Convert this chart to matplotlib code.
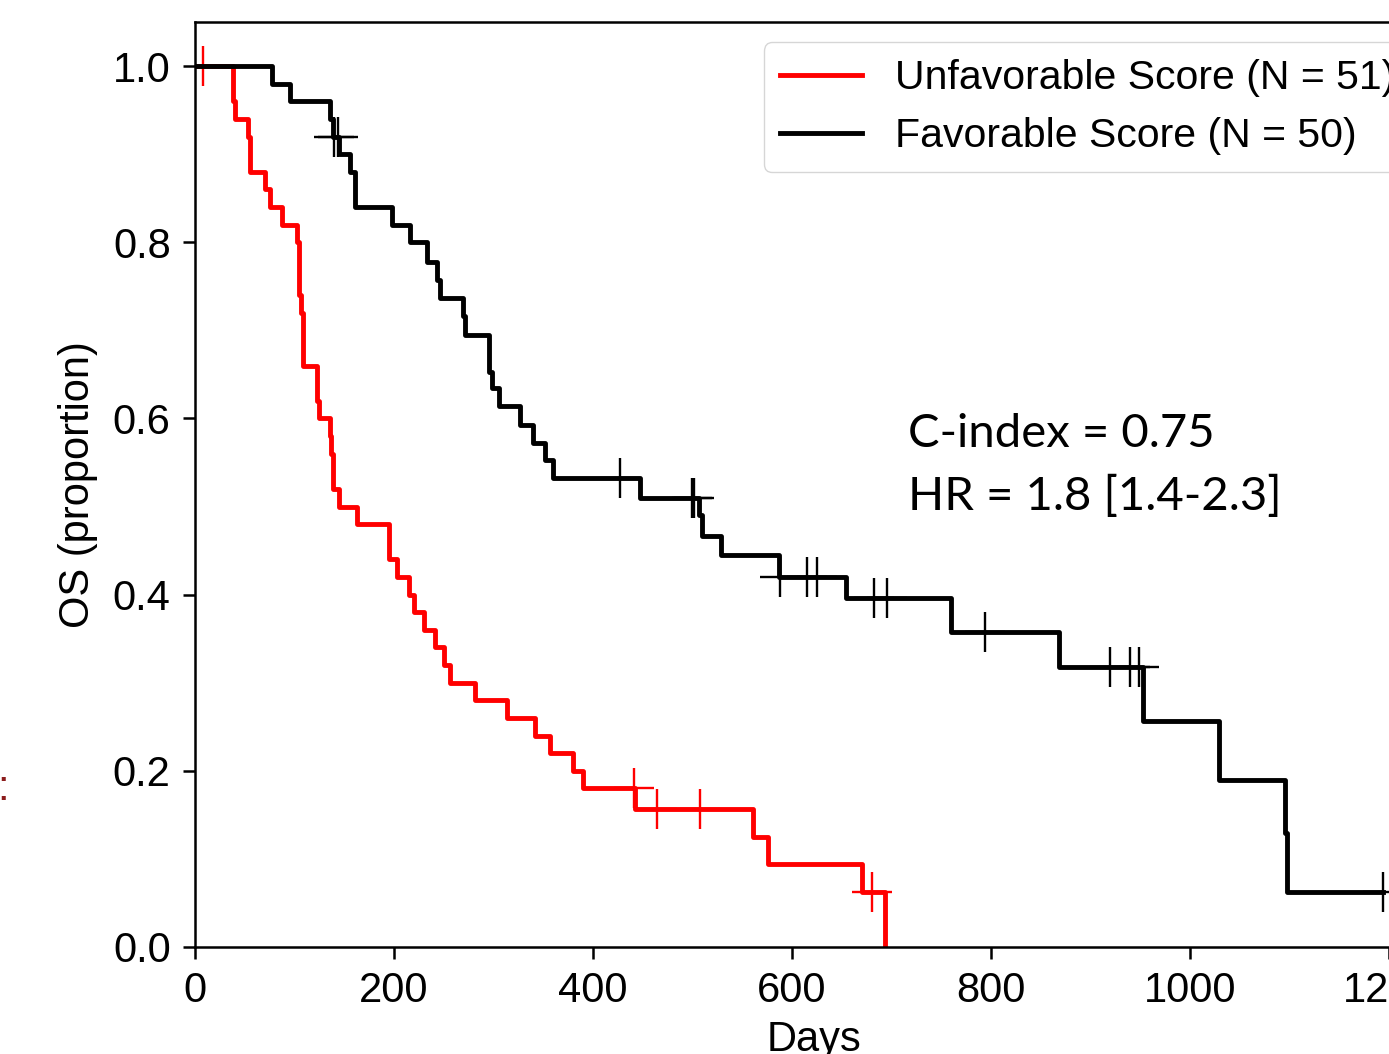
import numpy as np
import matplotlib
matplotlib.use("Agg")
from matplotlib import pyplot as plt

# Kaplan-Meier steps (days, survival after the drop)
unfav_times = [0, 38, 40, 53, 55, 70, 75, 87, 102, 105, 107, 109, 123, 125, 136, 137, 139, 145,
               163, 195, 203, 215, 220, 230, 241, 250, 256, 281, 314, 342, 357, 380, 390, 442,
               561, 576, 670, 693]
unfav_surv = [1.0, 0.96, 0.94, 0.92, 0.88, 0.86, 0.84, 0.82, 0.80, 0.74, 0.72, 0.66, 0.62, 0.60,
              0.58, 0.56, 0.52, 0.50, 0.48, 0.44, 0.42, 0.40, 0.38, 0.36, 0.34, 0.32, 0.30, 0.28,
              0.26, 0.24, 0.22, 0.20, 0.18, 0.157, 0.125, 0.094, 0.063, 0.0]
unfav_censor = [8, 441, 464, 507, 680]

fav_times = [0, 77, 95, 136, 139, 145, 156, 161, 198, 216, 233, 243, 246, 269, 271, 295, 298,
             305, 327, 340, 352, 360, 447, 506, 509, 529, 587, 654, 760, 868, 953, 1029, 1095,
             1097]
fav_surv = [1.0, 0.98, 0.96, 0.94, 0.92, 0.90, 0.88, 0.84, 0.82, 0.80, 0.778, 0.757, 0.737,
            0.716, 0.695, 0.653, 0.634, 0.614, 0.593, 0.572, 0.553, 0.532, 0.510, 0.49, 0.467,
            0.445, 0.420, 0.396, 0.358, 0.318, 0.257, 0.190, 0.129, 0.063]
fav_censor = [140, 144, 427, 499, 501, 588, 615, 625, 682, 695, 794, 919, 940, 949, 1194]

labels = ["Unfavorable Score (N = 51)", "Favorable Score (N = 50)"]
colors = ["#ff0000", "#000000"]
stats_lines = ["C-index = 0.75", "HR = 1.8 [1.4-2.3]"]

plt.rcParams['font.family'] = ['Liberation Sans', 'DejaVu Sans']


def km_curve(ax, times, surv, censor, color, label):
    times = list(times)
    surv = list(surv)
    # carry the last value on to the last censored subject
    if max(censor) > times[-1]:
        times.append(max(censor))
        surv.append(surv[-1])
    ax.step(times, surv, where='post', color=color, lw=3.5, label=label)
    idx = np.searchsorted(times, censor, side='right') - 1
    cs = np.array(surv)[idx]
    ax.plot(censor, cs, '+', color=color, ms=29, mew=1.7, ls='none')


fig = plt.figure(figsize=(13.89, 10.54), dpi=100)
ax = fig.add_axes([195 / 1389, 107 / 1054, 1237 / 1389, 925 / 1054])

km_curve(ax, unfav_times, unfav_surv, unfav_censor, colors[0], labels[0])
km_curve(ax, fav_times, fav_surv, fav_censor, colors[1], labels[1])

ax.set_xlim(0, 1243)
ax.set_ylim(0, 1.05)
ax.set_xticks([0, 200, 400, 600, 800, 1000, 1200])
ax.set_yticks([0.0, 0.2, 0.4, 0.6, 0.8, 1.0])
ax.tick_params(labelsize=30, length=8.5, width=1.8, pad=9)
for sp in ax.spines.values():
    sp.set_linewidth(1.8)
ax.set_xlabel('Days', fontsize=30, labelpad=6)
ax.set_ylabel('OS (proportion)', fontsize=30, labelpad=11)

ax.legend(loc='upper right', fontsize=29.5, handlelength=2)

for i, line in enumerate(stats_lines):
    fig.text(908 / 1389, 1 - (447 + 63 * i) / 1054, line, fontsize=34,
             family=['Lato', 'DejaVu Sans'], va='baseline', ha='left')
fig.text(0.002, 1 - 800 / 1054, ':', fontsize=30, color='#8c1c1c', ha='center', va='baseline')

fig.savefig('out.png', dpi=100)
